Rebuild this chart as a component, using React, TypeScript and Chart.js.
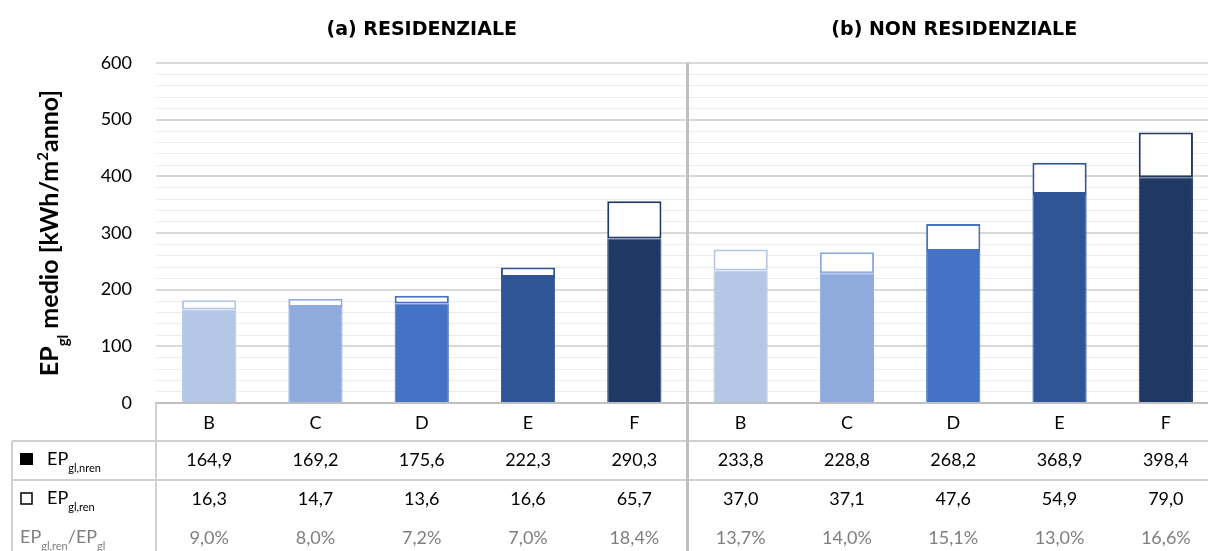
import React, { useEffect, useRef } from 'react';
import { Chart, registerables } from 'chart.js';

Chart.register(...registerables);

const categories = ['B', 'C', 'D', 'E', 'F', 'B', 'C', 'D', 'E', 'F'];
const groupTitles = ['(a) RESIDENZIALE', '(b) NON RESIDENZIALE'];
const epNren = [164.9, 169.2, 175.6, 222.3, 290.3, 233.8, 228.8, 268.2, 368.9, 398.4];
const epRen = [16.3, 14.7, 13.6, 16.6, 65.7, 37.0, 37.1, 47.6, 54.9, 79.0];
const renShare = [9.0, 8.0, 7.2, 7.0, 18.4, 13.7, 14.0, 15.1, 13.0, 16.6];
const yMax = 600;
const yMajorStep = 100;
const yMinorStep = 20;
const classColors: Record<string, string> = {
  B: '#B4C7E7',
  C: '#8FAADC',
  D: '#4472C4',
  E: '#2F5597',
  F: '#203864',
};

const FONT = 'Lato, "Open Sans", sans-serif';
const TITLE_FONT = '"DejaVu Sans", Lato, sans-serif';
const fmt = (v: number) => v.toFixed(1).replace('.', ',');

type Part = { t: string; sub?: boolean; sup?: boolean };

function drawParts(
  ctx: CanvasRenderingContext2D,
  parts: Part[],
  x: number,
  y: number,
  size: number,
  weight: string,
  color: string,
  align: 'left' | 'center' = 'left'
) {
  const small = Math.round(size * 0.6);
  const widths = parts.map((p) => {
    ctx.font = `${weight} ${p.sub || p.sup ? small : size}px ${FONT}`;
    return ctx.measureText(p.t).width;
  });
  const total = widths.reduce((a, b) => a + b, 0);
  let cx = align === 'center' ? x - total / 2 : x;
  ctx.fillStyle = color;
  ctx.textAlign = 'left';
  ctx.textBaseline = 'alphabetic';
  parts.forEach((p, i) => {
    ctx.font = `${weight} ${p.sub || p.sup ? small : size}px ${FONT}`;
    const dy = p.sub ? size * 0.38 : p.sup ? -size * 0.42 : 0;
    ctx.fillText(p.t, cx, y + dy);
    cx += widths[i];
  });
}

const overlayPlugin = {
  id: 'overlay',
  afterDraw(chart: any) {
    const ctx: CanvasRenderingContext2D = chart.ctx;
    const xs = chart.scales.x;
    const area = chart.chartArea;
    const W = chart.width;
    const H = chart.height;
    ctx.save();

    // group titles
    const divX = (xs.getPixelForValue(4) + xs.getPixelForValue(5)) / 2;
    ctx.font = `bold 19px ${TITLE_FONT}`;
    ctx.fillStyle = '#000';
    ctx.textAlign = 'center';
    ctx.textBaseline = 'middle';
    ctx.fillText(groupTitles[0], (area.left + divX) / 2, 30);
    ctx.fillText(groupTitles[1], (divX + area.right) / 2 + 1, 30);

    // y axis title
    ctx.save();
    ctx.translate(58, 233);
    ctx.rotate(-Math.PI / 2);
    drawParts(
      ctx,
      [
        { t: 'EP' },
        { t: 'gl', sub: true },
        { t: ' medio [kWh/m' },
        { t: '2', sup: true },
        { t: 'anno]' },
      ],
      0,
      0,
      25,
      'bold',
      '#000',
      'center'
    );
    ctx.restore();

    // table lines
    ctx.strokeStyle = '#D0D0D0';
    ctx.lineWidth = 2;
    const rowLines = [441, 480];
    rowLines.forEach((y) => {
      ctx.beginPath();
      ctx.moveTo(12, y);
      ctx.lineTo(W, y);
      ctx.stroke();
    });
    ctx.beginPath();
    ctx.moveTo(12, 441);
    ctx.lineTo(12, H);
    ctx.moveTo(area.left, area.bottom);
    ctx.lineTo(area.left, H);
    ctx.stroke();

    // divider
    ctx.strokeStyle = '#BFBFBF';
    ctx.lineWidth = 3;
    ctx.beginPath();
    ctx.moveTo(divX, area.top);
    ctx.lineTo(divX, H);
    ctx.stroke();

    // row labels
    ctx.fillStyle = '#000';
    ctx.fillRect(20, 453, 13, 12);
    ctx.strokeStyle = '#000';
    ctx.lineWidth = 1.5;
    ctx.strokeRect(21, 493, 11, 11);
    drawParts(ctx, [{ t: 'EP' }, { t: 'gl,nren', sub: true }], 47, 465, 18, 'normal', '#000');
    drawParts(ctx, [{ t: 'EP' }, { t: 'gl,ren', sub: true }], 47, 504, 18, 'normal', '#000');
    drawParts(
      ctx,
      [{ t: 'EP' }, { t: 'gl,ren', sub: true }, { t: '/EP' }, { t: 'gl', sub: true }],
      20,
      543,
      18,
      'normal',
      '#7F7F7F'
    );

    // values
    ctx.textAlign = 'center';
    ctx.textBaseline = 'middle';
    ctx.font = `18px ${FONT}`;
    categories.forEach((_, i) => {
      const x = xs.getPixelForValue(i);
      ctx.fillStyle = '#000';
      ctx.fillText(fmt(epNren[i]), x, 460);
      ctx.fillText(fmt(epRen[i]), x, 499);
      ctx.fillStyle = '#7F7F7F';
      ctx.fillText(fmt(renShare[i]) + '%', x, 538);
    });
    ctx.restore();
  },
};

export default function App() {
  const ref = useRef<HTMLCanvasElement>(null);
  useEffect(() => {
    if (!ref.current) return;
    const colors = categories.map((c) => classColors[c]);
    const chart = new Chart(ref.current, {
      type: 'bar',
      data: {
        labels: categories,
        datasets: [
          {
            label: 'EP gl,nren',
            data: epNren,
            backgroundColor: colors,
            borderColor: colors,
            borderWidth: 1,
            barPercentage: 0.51,
            categoryPercentage: 1,
          },
          {
            label: 'EP gl,ren',
            data: epRen,
            backgroundColor: '#FFFFFF',
            borderColor: colors,
            borderWidth: 2,
            borderSkipped: false,
            barPercentage: 0.51,
            categoryPercentage: 1,
          },
        ],
      },
      options: {
        responsive: false,
        animation: false,
        devicePixelRatio: 1,
        layout: { padding: { top: 63, right: 11, left: 0, bottom: 0 } },
        plugins: {
          legend: { display: false },
          title: { display: false },
          tooltip: { enabled: false },
        },
        scales: {
          x: {
            stacked: true,
            grid: { display: false, drawTicks: false },
            border: { display: true, color: '#BFBFBF', width: 2 },
            ticks: {
              color: '#000',
              font: { family: FONT, size: 18 },
              padding: 9,
              maxRotation: 0,
            },
            afterFit: (s: any) => {
              s.height = 551 - 403;
            },
          },
          y: {
            stacked: true,
            min: 0,
            max: yMax,
            grid: {
              drawTicks: false,
              color: (c: any) =>
                c.tick && c.tick.value % yMajorStep === 0 ? '#D9D9D9' : '#EDEDED',
              lineWidth: (c: any) => (c.tick && c.tick.value % yMajorStep === 0 ? 2 : 1),
            },
            border: { display: false },
            ticks: {
              stepSize: yMinorStep,
              autoSkip: false,
              color: '#000',
              font: { family: FONT, size: 18 },
              padding: 24,
              callback: (v: any) => (Number(v) % yMajorStep === 0 ? String(v) : ''),
            },
            afterFit: (s: any) => {
              s.width = 156;
            },
          },
        },
      },
      plugins: [overlayPlugin],
    });
    return () => chart.destroy();
  }, []);

  return (
    <div
      style={{
        position: 'fixed',
        left: 0,
        top: 0,
        width: 1208,
        height: 551,
        overflow: 'hidden',
        background: '#fff',
      }}
    >
      <canvas ref={ref} width={1230} height={551} style={{ display: 'block' }} />
    </div>
  );
}
